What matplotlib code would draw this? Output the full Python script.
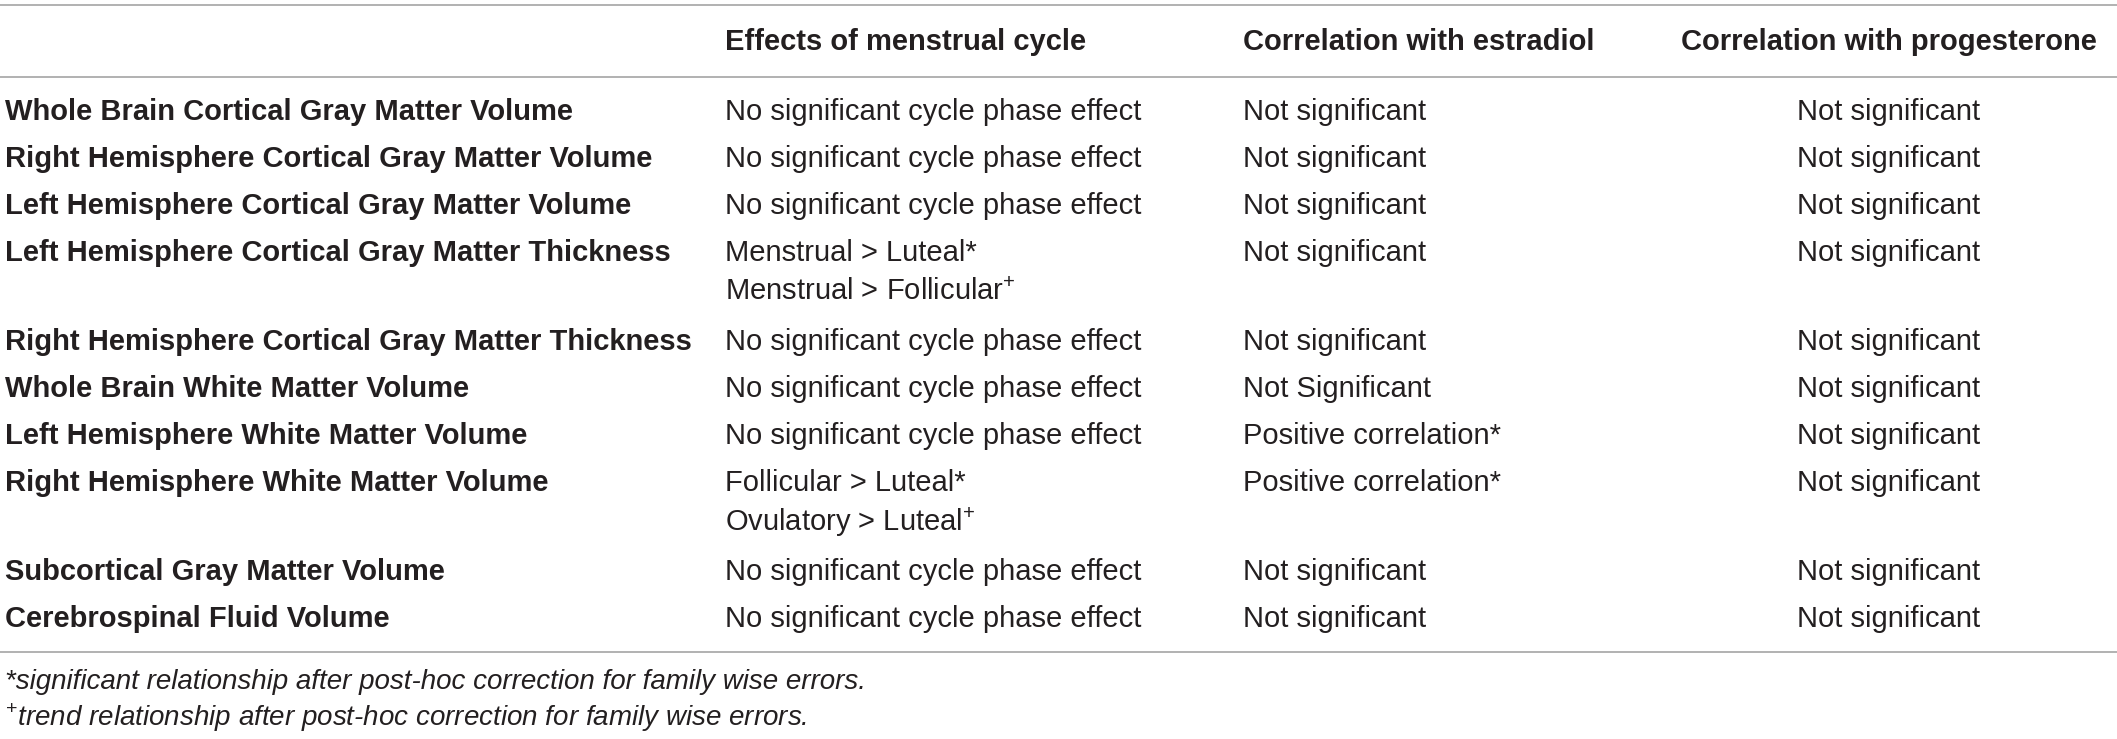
import matplotlib
matplotlib.use("Agg")
import matplotlib.pyplot as plt

regions = [
    "Whole Brain Cortical Gray Matter Volume",
    "Right Hemisphere Cortical Gray Matter Volume",
    "Left Hemisphere Cortical Gray Matter Volume",
    "Left Hemisphere Cortical Gray Matter Thickness",
    "Right Hemisphere Cortical Gray Matter Thickness",
    "Whole Brain White Matter Volume",
    "Left Hemisphere White Matter Volume",
    "Right Hemisphere White Matter Volume",
    "Subcortical Gray Matter Volume",
    "Cerebrospinal Fluid Volume",
]

nosig = "No significant cycle phase effect"
cycle_effects = [
    [nosig],
    [nosig],
    [nosig],
    ["Menstrual > Luteal*", "Menstrual > Follicular$^{+}$"],
    [nosig],
    [nosig],
    [nosig],
    ["Follicular > Luteal*", "Ovulatory > Luteal$^{+}$"],
    [nosig],
    [nosig],
]

estradiol = [
    "Not significant", "Not significant", "Not significant", "Not significant",
    "Not significant", "Not Significant", "Positive correlation*",
    "Positive correlation*", "Not significant", "Not significant",
]

progesterone = ["Not significant"] * 10

headers = ["", "Effects of menstrual cycle", "Correlation with estradiol",
           "Correlation with progesterone"]

footnotes = [
    "*significant relationship after post-hoc correction for family wise errors.",
    "$^{+}$trend relationship after post-hoc correction for family wise errors.",
]

W, H = 2117, 739
TXT = "#231f20"
RULE = "#ababab"

plt.rcParams['font.family'] = ['Liberation Sans Narrow', 'Liberation Sans', 'DejaVu Sans']
plt.rcParams['mathtext.fontset'] = 'custom'
plt.rcParams['mathtext.rm'] = 'Liberation Sans'

fig = plt.figure(figsize=(W / 100, H / 100), dpi=100)
ax = fig.add_axes([0, 0, 1, 1])
ax.set_xlim(0, W)
ax.set_ylim(H, 0)
ax.axis('off')

fs = 21
col_x = [5, 725, 1243]
prog_cx = 1889

# rules
for y in (5, 77, 652):
    ax.plot([0, W], [y, y], color=RULE, lw=1.3, solid_capstyle='butt')

# header
for i, h in enumerate(headers):
    if not h:
        continue
    if i == 3:
        ax.text(prog_cx, 42, h, ha='center', va='center', fontsize=fs,
                fontweight='bold', color=TXT)
    else:
        ax.text(col_x[i], 42, h, ha='left', va='center', fontsize=fs,
                fontweight='bold', color=TXT)

# body
y = 112
for name, eff, est, prog in zip(regions, cycle_effects, estradiol, progesterone):
    ax.text(col_x[0], y, name, ha='left', va='center', fontsize=fs,
            fontweight='bold', color=TXT)
    for k, line in enumerate(eff):
        ax.text(col_x[1], y + 39 * k, line, ha='left', va='center',
                fontsize=fs, color=TXT)
    ax.text(col_x[2], y, est, ha='left', va='center', fontsize=fs, color=TXT)
    ax.text(prog_cx, y, prog, ha='center', va='center', fontsize=fs, color=TXT)
    y += 47 + 42 * (len(eff) - 1)

# footnotes
for k, fn in enumerate(footnotes):
    ax.text(5, 682 + 36 * k, fn, ha='left', va='center', fontsize=fs - 1,
            fontstyle='italic', color=TXT)

fig.savefig("out.png", dpi=100, facecolor='white')
